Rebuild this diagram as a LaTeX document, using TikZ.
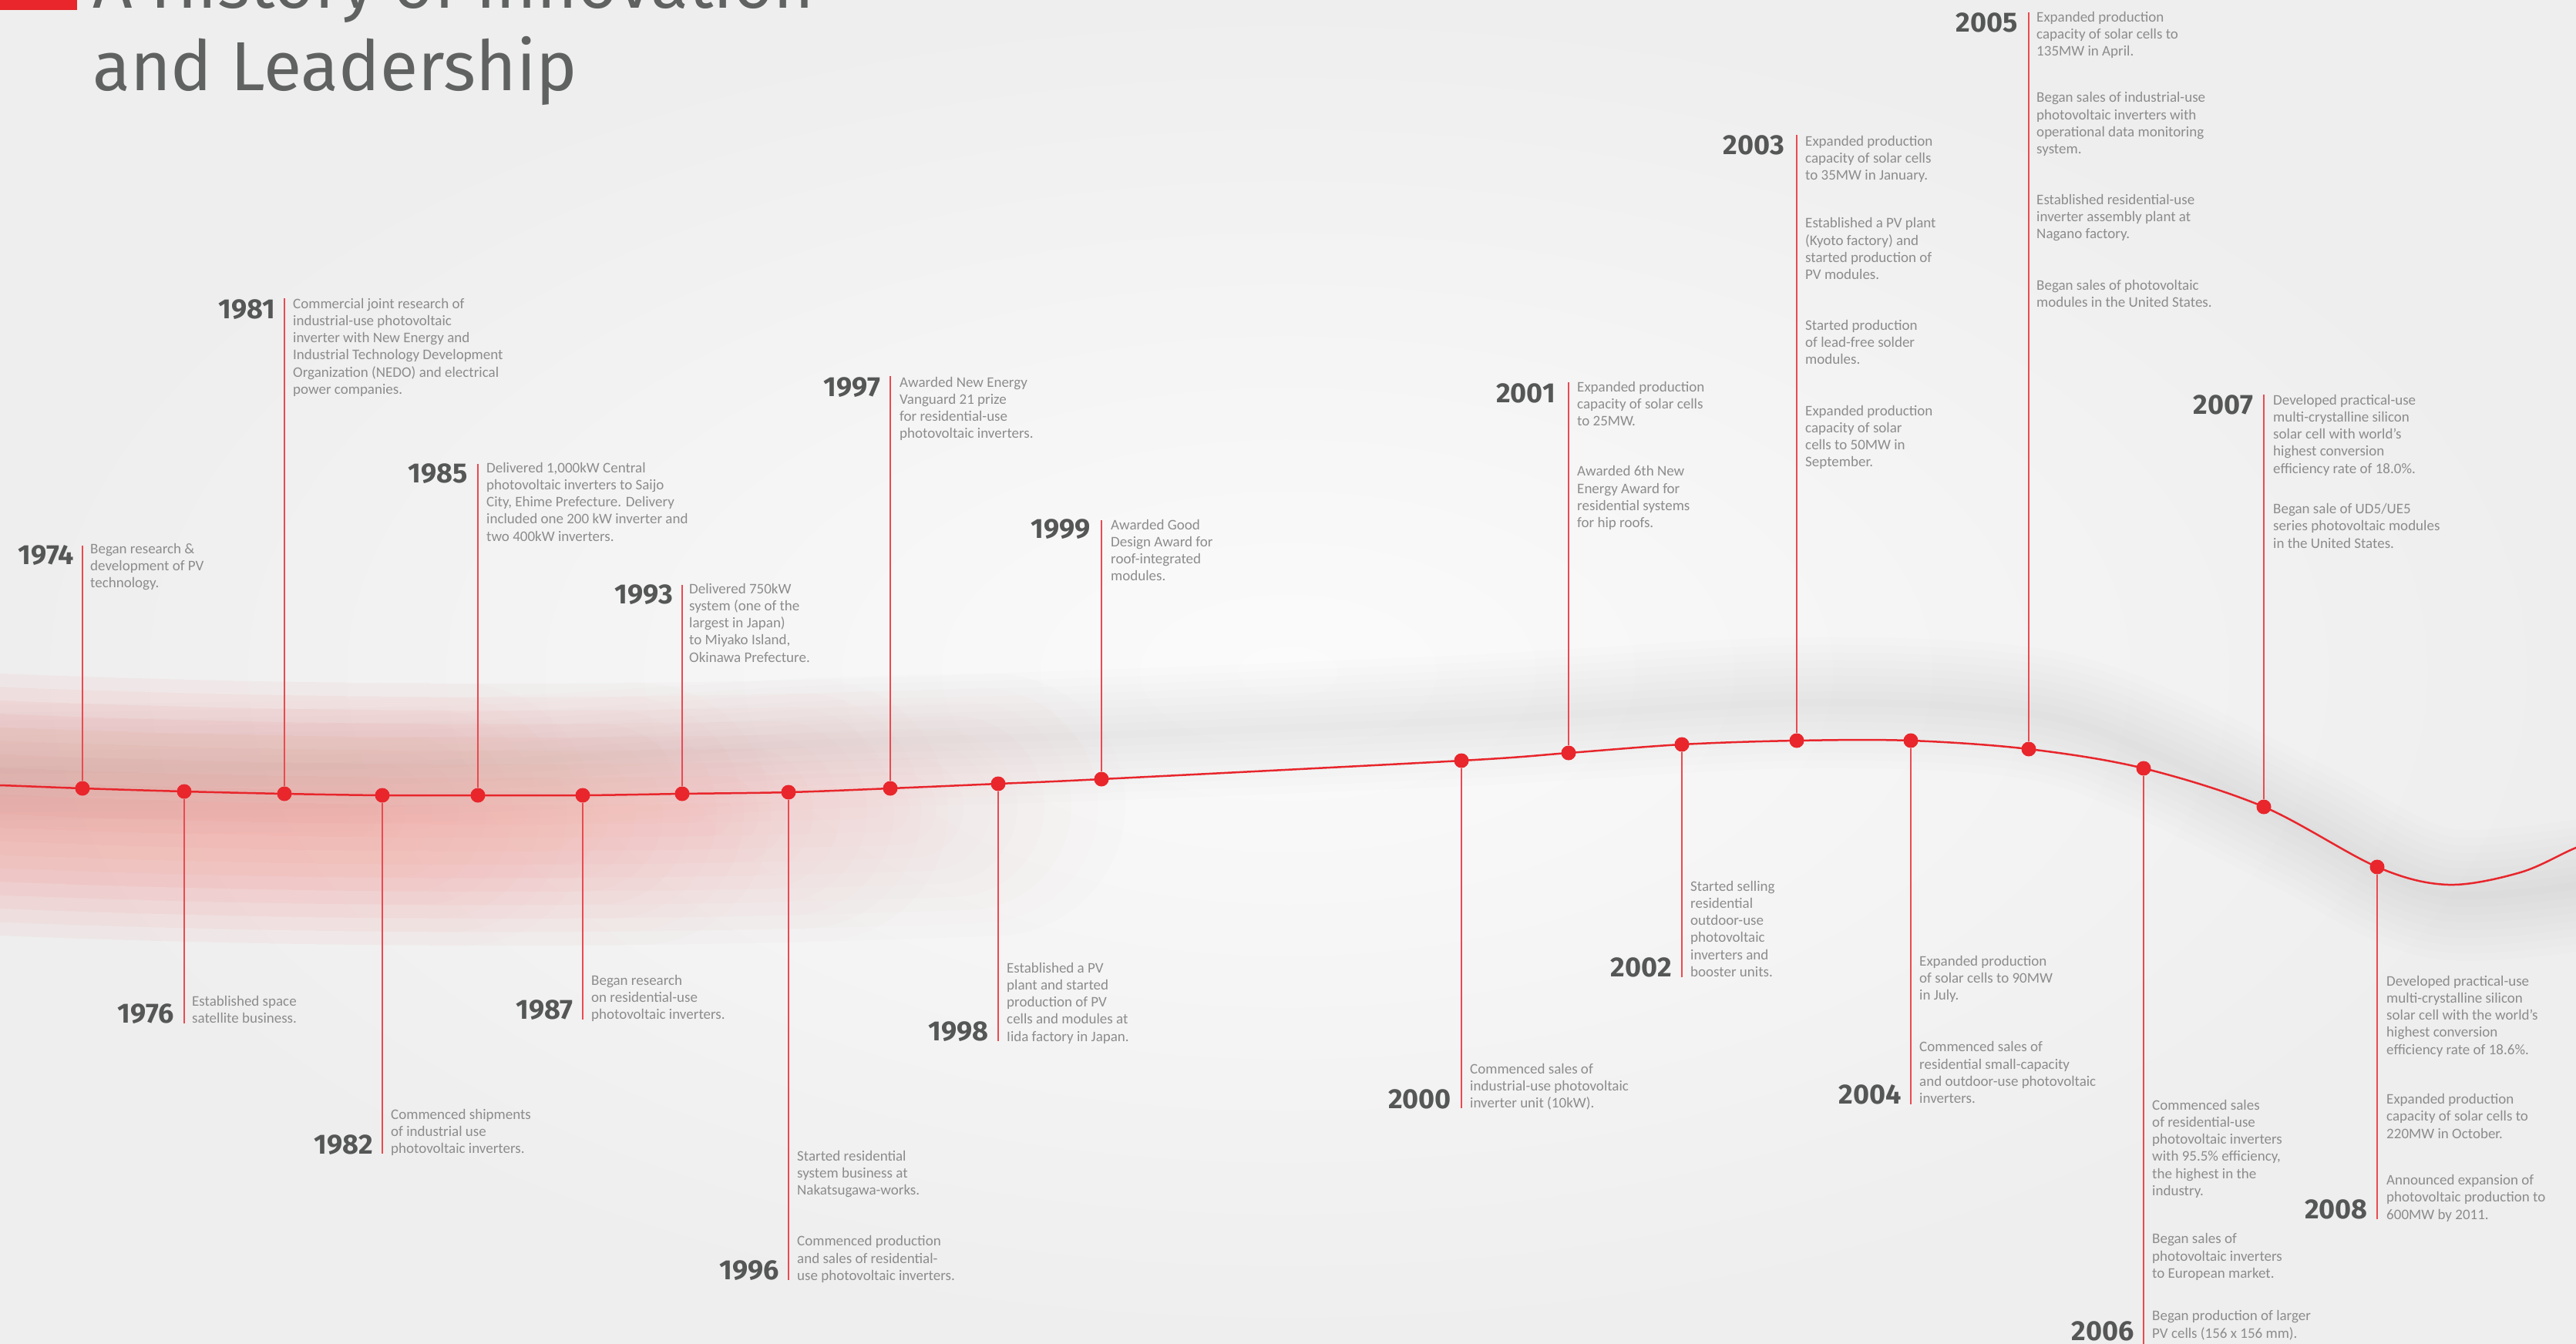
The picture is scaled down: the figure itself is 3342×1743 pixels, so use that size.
\documentclass[tikz,border=0pt]{standalone}
\usepackage{fontspec}
\setmainfont{Carlito}
\newfontfamily\headfont{Fira Sans}
\newcommand\tlines[1]{\begin{tabular}[t]{@{}l@{}}#1\end{tabular}}
\definecolor{bgout}{HTML}{EEEEEE}
\definecolor{bgin}{HTML}{FBFBFB}
\definecolor{tred}{HTML}{E8262C}
\definecolor{lred}{HTML}{EA4A50}
\definecolor{glowred}{HTML}{F0483F}
\definecolor{titlegray}{HTML}{606261}
\definecolor{yeargray}{HTML}{555656}
\definecolor{txtgray}{HTML}{8C8C8C}
\begin{document}
\begin{tikzpicture}[x=1pt,y=-1pt,
  dotn/.style={circle,fill=tred,inner sep=0pt,minimum size=19pt},
  vline/.style={lred,line width=2pt},
  yearn/.style={font={\headfont\bfseries\fontsize{36}{36}\selectfont},text=yeargray,inner sep=0pt,anchor=base east},
  txt/.style={font={\fontsize{19}{22.3}\selectfont},text=txtgray,inner sep=0pt,anchor=base west},
  titlen/.style={font={\headfont\fontsize{90}{100}\selectfont},text=titlegray,inner sep=0pt,anchor=base west},
  curve/.style={tred,line width=2.5pt}
]
\useasboundingbox (0,0) rectangle (3342,1743);
\clip (0,0) rectangle (3342,1743);
\shade[inner color=bgin,outer color=bgout] (0,0) rectangle (3342,1743);

% soft gray shadow band
\foreach \w in {170,150,...,10}{
  \draw[black,line width=\w pt,opacity=0.007] plot[smooth,tension=0.55] coordinates {(-50,1000)(600,990)(1050,965)(1400,955)(1900,935)(2330,912)(2630,925)(2800,980)(2990,1075)(3170,1160)(3400,1140)};
}
% red glow on the left, fading towards the right (staggered round-capped strokes)
\foreach \w in {340,305,...,25}{
  \foreach \k in {0,...,3}{
    \pgfmathsetmacro\xe{430+230*\k+0.5*\w}
    \draw[glowred,line width=\w pt,opacity=0.0062,line cap=round]
      plot[domain=-300:\xe,samples=25,smooth] (\x,{1057-0.3077*((\x-650)/100)*((\x-650)/100)});
  }
}

% main curve
\draw[curve] plot[smooth,tension=0.55] coordinates {(-60,1018)(0,1019)(107,1023)(239,1027)(369,1030)(496,1032)(620,1032)(756,1032)(885,1030)(1023,1028)(1155,1023)(1295,1017)(1429,1011)(1896,987)(2035,977)(2182,966)(2331,961)(2479,961)(2632,972)(2781,997)(2937,1047)(3084,1125)(3176,1148)(3270,1132)(3342,1100)(3400,1080)};

% title
\fill[tred] (0,-80) rectangle (100,13);
\node[titlen] (title1) at (120,10) {A History of Innovation};
\node[titlen] (title2) at (120,117) {and Leadership};

% dots
\node[dotn] (d1974) at (107,1023) {};
\node[dotn] (d1976) at (239,1027) {};
\node[dotn] (d1981) at (369,1030) {};
\node[dotn] (d1982) at (496,1032) {};
\node[dotn] (d1985) at (620,1032) {};
\node[dotn] (d1987) at (756,1032) {};
\node[dotn] (d1993) at (885,1030) {};
\node[dotn] (d1996) at (1023,1028) {};
\node[dotn] (d1997) at (1155,1023) {};
\node[dotn] (d1998) at (1295,1017) {};
\node[dotn] (d1999) at (1429,1011) {};
\node[dotn] (d2000) at (1896,987) {};
\node[dotn] (d2001) at (2035,977) {};
\node[dotn] (d2002) at (2182,966) {};
\node[dotn] (d2003) at (2331,961) {};
\node[dotn] (d2004) at (2479,961) {};
\node[dotn] (d2005) at (2632,972) {};
\node[dotn] (d2006) at (2781,997) {};
\node[dotn] (d2007) at (2937,1047) {};
\node[dotn] (d2008) at (3084,1125) {};

% line ends
\coordinate (e1974) at (107,708);
\coordinate (e1981) at (369,387);
\coordinate (e1985) at (620,602);
\coordinate (e1993) at (885,759);
\coordinate (e1997) at (1155,488);
\coordinate (e1999) at (1429,675);
\coordinate (e2001) at (2035,496);
\coordinate (e2003) at (2331,175);
\coordinate (e2005) at (2632,16);
\coordinate (e2007) at (2937,512);
\coordinate (e1976) at (239,1328);
\coordinate (e1982) at (496,1497);
\coordinate (e1987) at (756,1323);
\coordinate (e1996) at (1023,1661);
\coordinate (e1998) at (1295,1351);
\coordinate (e2000) at (1896,1438);
\coordinate (e2002) at (2182,1268);
\coordinate (e2004) at (2479,1433);
\coordinate (e2006) at (2781,1770);
\coordinate (e2008) at (3084,1582);

\foreach \yr in {1974,1976,1981,1982,1985,1987,1993,1996,1997,1998,1999,2000,2001,2002,2003,2004,2005,2006,2007,2008}{
  \draw[vline] (d\yr) -- (e\yr);
}

% above items
\node[yearn] (y1974) at (96,732) {1974};
\node[txt] (t1974) at (117,718) {\tlines{Began research \&\\development of PV\\technology.}};

\node[yearn] (y1981) at (357,413) {1981};
\node[txt] (t1981) at (380,400) {\tlines{Commercial joint research of\\industrial-use photovoltaic\\inverter with New Energy and\\Industrial Technology Development\\Organization (NEDO) and electrical\\power companies.}};

\node[yearn] (y1985) at (607,626) {1985};
\node[txt] (t1985) at (631,613) {\tlines{Delivered 1,000kW Central\\photovoltaic inverters to Saijo\\City, Ehime Prefecture. Delivery\\included one 200 kW inverter and\\two 400kW inverters.}};

\node[yearn] (y1993) at (873,783) {1993};
\node[txt] (t1993) at (894,770) {\tlines{Delivered 750kW\\system (one of the\\largest in Japan)\\to Miyako Island,\\Okinawa Prefecture.}};

\node[yearn] (y1997) at (1142,514) {1997};
\node[txt] (t1997) at (1167,502) {\tlines{Awarded New Energy\\Vanguard 21 prize\\for residential-use\\photovoltaic inverters.}};

\node[yearn] (y1999) at (1415,698) {1999};
\node[txt] (t1999) at (1441,687) {\tlines{Awarded Good\\Design Award for\\roof-integrated\\modules.}};

\node[yearn] (y2001) at (2018,522) {2001};
\node[txt] (t2001) at (2046,508) {\tlines{Expanded production\\capacity of solar cells\\to 25MW.\\[43pt]Awarded 6th New\\Energy Award for\\residential systems\\for hip roofs.}};

\node[yearn] (y2003) at (2315,200) {2003};
\node[txt] (t2003) at (2342,189) {\tlines{Expanded production\\capacity of solar cells\\to 35MW in January.\\[40pt]Established a PV plant\\(Kyoto factory) and\\started production of\\PV modules.\\[43pt]Started production\\of lead-free solder\\modules.\\[44pt]Expanded production\\capacity of solar\\cells to 50MW in\\September.}};

\node[yearn] (y2005) at (2618,41) {2005};
\node[txt] (t2005) at (2642,28) {\tlines{Expanded production\\capacity of solar cells to\\135MW in April.\\[38pt]Began sales of industrial-use\\photovoltaic inverters with\\operational data monitoring\\system.\\[43pt]Established residential-use\\inverter assembly plant at\\Nagano factory.\\[44pt]Began sales of photovoltaic\\modules in the United States.}};

\node[yearn] (y2007) at (2923,537) {2007};
\node[txt] (t2007) at (2949,525) {\tlines{Developed practical-use\\multi-crystalline silicon\\solar cell with world's\\highest conversion\\efficiency rate of 18.0\%.\\[30pt]Began sale of UD5/UE5\\series photovoltaic modules\\in the United States.}};

% below items
\node[yearn] (y1976) at (226,1327) {1976};
\node[txt] (t1976) at (249,1305) {\tlines{Established space\\satellite business.}};

\node[yearn] (y1982) at (484,1497) {1982};
\node[txt] (t1982) at (507,1452) {\tlines{Commenced shipments\\of industrial use\\photovoltaic inverters.}};

\node[yearn] (y1987) at (744,1322) {1987};
\node[txt] (t1987) at (767,1278) {\tlines{Began research\\on residential-use\\photovoltaic inverters.}};

\node[yearn] (y1996) at (1011,1660) {1996};
\node[txt] (t1996) at (1034,1506) {\tlines{Started residential\\system business at\\Nakatsugawa-works.\\[44pt]Commenced production\\and sales of residential-\\use photovoltaic inverters.}};

\node[yearn] (y1998) at (1283,1350) {1998};
\node[txt] (t1998) at (1306,1262) {\tlines{Established a PV\\plant and started\\production of PV\\cells and modules at\\Iida factory in Japan.}};

\node[yearn] (y2000) at (1883,1438) {2000};
\node[txt] (t2000) at (1907,1393) {\tlines{Commenced sales of\\industrial-use photovoltaic\\inverter unit (10kW).}};

\node[yearn] (y2002) at (2169,1267) {2002};
\node[txt] (t2002) at (2193,1156) {\tlines{Started selling\\residential\\outdoor-use\\photovoltaic\\inverters and\\booster units.}};

\node[yearn] (y2004) at (2467,1432) {2004};
\node[txt] (t2004) at (2490,1253) {\tlines{Expanded production\\of solar cells to 90MW\\in July.\\[45pt]Commenced sales of\\residential small-capacity\\and outdoor-use photovoltaic\\inverters.}};

\node[yearn] (y2006) at (2769,1739) {2006};
\node[txt] (t2006) at (2792,1440) {\tlines{Commenced sales\\of residential-use\\photovoltaic inverters\\with 95.5\% efficiency,\\the highest in the\\industry.\\[40pt]Began sales of\\photovoltaic inverters\\to European market.\\[33pt]Began production of larger\\PV cells (156 x 156 mm).}};

\node[yearn] (y2008) at (3072,1581) {2008};
\node[txt] (t2008) at (3096,1279) {\tlines{Developed practical-use\\multi-crystalline silicon\\solar cell with the world's\\highest conversion\\efficiency rate of 18.6\%.\\[42pt]Expanded production\\capacity of solar cells to\\220MW in October.\\[38pt]Announced expansion of\\photovoltaic production to\\600MW by 2011.}};
\end{tikzpicture}
\end{document}
